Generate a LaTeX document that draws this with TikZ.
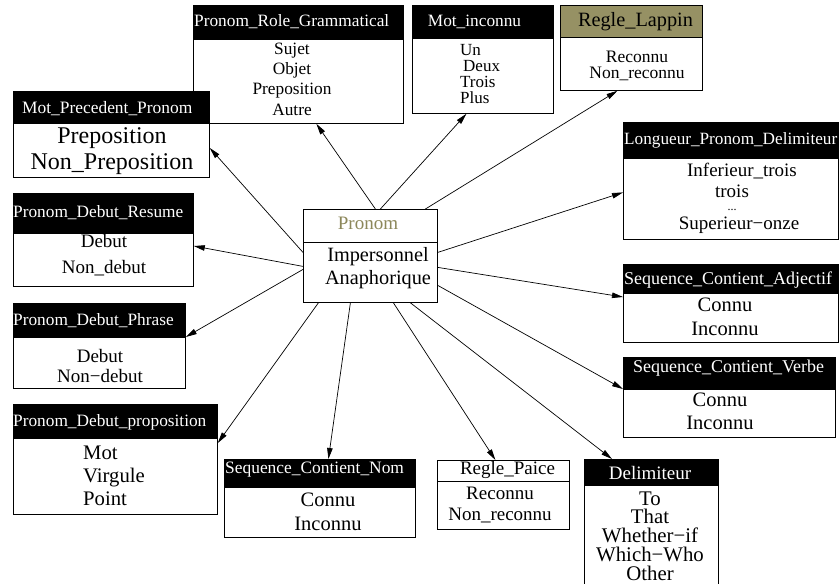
\documentclass[tikz,border=0pt]{standalone}
\usepackage{fontspec}
\setmainfont{Liberation Serif}
\usetikzlibrary{arrows.meta,calc}
\definecolor{olivehd}{RGB}{150,145,100}
\definecolor{olivetx}{RGB}{140,135,90}
\newcommand{\fsz}[2]{\fontsize{#1}{#2}\selectfont}
\tikzset{
  hdr/.style={draw=black, fill=black, line width=0.8pt, inner sep=0pt, anchor=north west},
  bdy/.style={draw=black, fill=white, line width=0.8pt, inner sep=0pt, anchor=north west},
  htxt/.style={text=white, inner sep=0pt},
  btxt/.style={inner sep=0pt, align=center},
  arr/.style={-{Triangle[length=11pt,width=5.5pt]}, line width=0.7pt},
}
\begin{document}
\begin{tikzpicture}[x=1pt,y=-1pt]
\useasboundingbox (0,0) rectangle (839,584);
\clip (0,0) rectangle (839,584);
\fill[white] (0,0) rectangle (839,584);

% Pronom_Role_Grammatical
\node[hdr, minimum width=210pt, minimum height=34pt] (roleh) at (193,5) {};
\node[bdy, minimum width=210pt, minimum height=84pt] (roleb) at (193,39) {};
\node[htxt, anchor=west, font=\fsz{17.3}{20}] (rolet) at (194,22) {Pronom\_Role\_Grammatical};
\node[btxt, font=\fsz{17.3}{20.3}] (rolex) at (292,79) {Sujet\\Objet\\Preposition\\Autre};

% Mot_inconnu
\node[hdr, minimum width=141pt, minimum height=33pt] (motinch) at (412,5) {};
\node[bdy, minimum width=141pt, minimum height=75pt] (motincb) at (412,38) {};
\node[htxt, font=\fsz{17.3}{20}] (motinct) at (474.5,22) {Mot\_inconnu};
\node[inner sep=0pt, align=left, anchor=west, font=\fsz{17}{16}] (motincx) at (460,74) {Un\\\hspace*{3pt}Deux\\Trois\\Plus};

% Regle_Lappin
\node[hdr, fill=olivehd, minimum width=142pt, minimum height=32pt] (lappinh) at (560,5) {};
\node[bdy, minimum width=142pt, minimum height=53pt] (lappinb) at (560,37) {};
\node[inner sep=0pt, font=\fsz{20.3}{22}] (lappint) at (635.5,22) {Regle\_Lappin};
\node[btxt, font=\fsz{17.5}{16}] (lappinx) at (637,66) {Reconnu\\Non\_reconnu};

% Mot_Precedent_Pronom
\node[hdr, minimum width=196pt, minimum height=32pt] (motprech) at (13,91) {};
\node[bdy, minimum width=196pt, minimum height=54pt] (motprecb) at (13,123) {};
\node[htxt, anchor=west, font=\fsz{17.4}{20}] (motprect) at (22,109) {Mot\_Precedent\_Pronom};
\node[btxt, font=\fsz{24}{26}] (motprecx) at (112,151) {Preposition\\Non\_Preposition};

% Pronom_Debut_Resume
\node[hdr, minimum width=180pt, minimum height=40pt] (resumeh) at (13,193) {};
\node[bdy, minimum width=180pt, minimum height=53pt] (resumeb) at (13,233) {};
\node[htxt, anchor=west, font=\fsz{17.3}{20}] (resumet) at (13,213) {Pronom\_Debut\_Resume};
\node[btxt, font=\fsz{19}{26}] (resumex) at (104,255) {Debut\\Non\_debut};

% Pronom_Debut_Phrase
\node[hdr, minimum width=172pt, minimum height=34pt] (phraseh) at (13,303) {};
\node[bdy, minimum width=172pt, minimum height=51pt] (phraseb) at (13,337) {};
\node[htxt, anchor=west, font=\fsz{17.3}{20}] (phraset) at (13,321) {Pronom\_Debut\_Phrase};
\node[btxt, font=\fsz{19}{20}] (phrasex) at (100,366) {Debut\\Non−debut};

% Pronom_Debut_proposition
\node[hdr, minimum width=204pt, minimum height=34pt] (proph) at (13,404) {};
\node[bdy, minimum width=204pt, minimum height=76pt] (propb) at (13,438) {};
\node[htxt, anchor=west, font=\fsz{17.3}{20}] (propt) at (13,422) {Pronom\_Debut\_proposition};
\node[inner sep=0pt, align=left, anchor=west, font=\fsz{20.7}{23}] (propx) at (83,476) {Mot\\Virgule\\Point};

% Sequence_Contient_Nom
\node[hdr, minimum width=191pt, minimum height=28pt] (seqnomh) at (224,459) {};
\node[bdy, minimum width=191pt, minimum height=50pt] (seqnomb) at (224,487) {};
\node[htxt, anchor=west, font=\fsz{17.4}{20}] (seqnomt) at (225,470) {Sequence\_Contient\_Nom};
\node[btxt, font=\fsz{20.5}{24}] (seqnomx) at (328,512) {Connu\\Inconnu};

% Regle_Paice
\node[hdr, fill=white, minimum width=132pt, minimum height=21pt] (paiceh) at (437,460) {};
\node[bdy, minimum width=132pt, minimum height=48pt] (paiceb) at (437,481) {};
\node[inner sep=0pt, font=\fsz{19}{20}] (paicet) at (507.5,470) {Regle\_Paice};
\node[btxt, font=\fsz{19}{21}] (paicex) at (500,504.5) {Reconnu\\Non\_reconnu};

% Delimiteur
\node[hdr, minimum width=134pt, minimum height=26pt] (delimh) at (584,459) {};
\node[bdy, minimum width=134pt, minimum height=130pt] (delimb) at (584,485) {};
\node[htxt, font=\fsz{19}{20}] (delimt) at (650,473) {Delimiteur};
\node[btxt, font=\fsz{20.8}{18.8}] (delimx) at (650,536) {To\\That\\Whether−if\\Which−Who\\Other};

% Longueur_Pronom_Delimiteur
\node[hdr, minimum width=215pt, minimum height=36pt] (longh) at (623,122) {};
\node[bdy, minimum width=215pt, minimum height=81pt] (longb) at (623,158) {};
\node[htxt, anchor=west, font=\fsz{17.2}{20}] (longt) at (624,140) {Longueur\_Pronom\_Delimiteur};
\node[inner sep=0pt, anchor=base, font=\fsz{19}{22}] (longx1) at (742,176) {Inferieur\_trois};
\node[inner sep=0pt, anchor=base, font=\fsz{19}{22}] (longx2) at (732,197) {trois};
\node[inner sep=0pt, anchor=base, font=\fsz{12}{12}] (longx3) at (732,210) {...};
\node[inner sep=0pt, anchor=base, font=\fsz{19}{22}] (longx4) at (739,229) {Superieur−onze};

% Sequence_Contient_Adjectif
\node[hdr, minimum width=215pt, minimum height=29pt] (adjh) at (623,264) {};
\node[bdy, minimum width=215pt, minimum height=49pt] (adjb) at (623,293) {};
\node[htxt, anchor=west, font=\fsz{18}{20}] (adjt) at (624,280) {Sequence\_Contient\_Adjectif};
\node[btxt, font=\fsz{20.5}{24}] (adjx) at (725,317) {Connu\\Inconnu};

% Sequence_Contient_Verbe
\node[hdr, minimum width=212pt, minimum height=32pt] (verbeh) at (623,357) {};
\node[bdy, minimum width=212pt, minimum height=48pt] (verbeb) at (623,389) {};
\node[htxt, anchor=west, font=\fsz{18}{20}] (verbet) at (633,368) {Sequence\_Contient\_Verbe};
\node[btxt, font=\fsz{20.5}{23}] (verbex) at (720,411.5) {Connu\\Inconnu};

% Pronom (centre)
\node[bdy, minimum width=134pt, minimum height=33pt] (pronomh) at (303,209) {};
\node[bdy, minimum width=134pt, minimum height=60pt] (pronomb) at (303,242) {};
\node[inner sep=0pt, text=olivetx, font=\fsz{19}{20}] (pronomt) at (368,223) {Pronom};
\node[btxt, font=\fsz{20.3}{23}] (pronomx) at (378,268.5) {Impersonnel\\Anaphorique};

% connectors
\draw[arr] ([xshift=5pt]pronomh.north) -- ([xshift=18pt]roleb.south);
\draw[arr] ([xshift=10pt]pronomh.north) -- ([xshift=-16.5pt]motincb.south);
\draw[arr] ([xshift=55pt]pronomh.north) -- ([xshift=-14pt]lappinb.south);
\draw[arr] ([yshift=20pt]pronomb.east) -- ([yshift=6.5pt]longb.west);
\draw[arr] ([yshift=5pt]pronomb.east) -- ([yshift=-4pt]adjb.north west);
\draw[arr] ([yshift=-13pt]pronomb.east) -- (verbeb.north west);
\draw[arr] ([xshift=40pt]pronomb.south) -- ([xshift=28pt]delimh.north west);
\draw[arr] ([xshift=23pt]pronomb.south) -- ([xshift=-8pt]paiceh.north);
\draw[arr] ([xshift=-20pt]pronomb.south) -- ([xshift=8.5pt]seqnomh.north);
\draw[arr] ([xshift=-52pt]pronomb.south) -- ([yshift=-5pt]propb.north east);
\draw[arr] ([yshift=3pt]pronomb.west) -- (phraseb.north east);
\draw[arr] ([yshift=6pt]pronomb.west) -- ([yshift=-13pt]resumeb.north east);
\draw[arr] ([yshift=20pt]pronomb.west) -- ([yshift=-25pt]motprecb.north east);
\end{tikzpicture}
\end{document}
